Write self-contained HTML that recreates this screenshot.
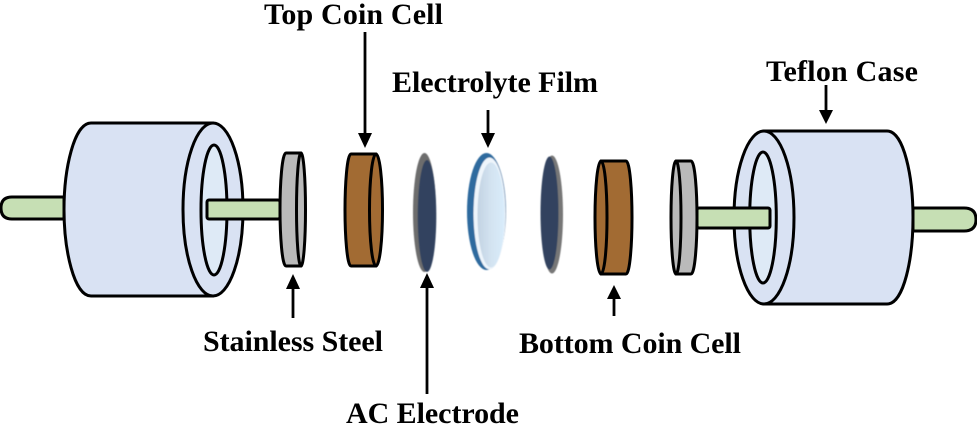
<!DOCTYPE html>
<html><head><meta charset="utf-8"><style>html,body{margin:0;padding:0;background:#fff}svg{display:block}text{font-family:"Liberation Serif",serif;font-weight:bold;font-size:30px;fill:#000}</style></head>
<body>
<svg width="977" height="433" viewBox="0 0 977 433" xmlns="http://www.w3.org/2000/svg">
<defs>
<filter id="b" x="-20%" y="-20%" width="140%" height="140%"><feGaussianBlur stdDeviation="0.6"/></filter>
<linearGradient id="film" x1="0" y1="0" x2="1" y2="0"><stop offset="0" stop-color="#c3d3e2"/><stop offset="0.5" stop-color="#d3e3f1"/><stop offset="1" stop-color="#d9ecfb"/></linearGradient>
</defs>
<g stroke="#000" stroke-width="3" stroke-linejoin="round">
<!-- left rod outer -->
<path d="M64 197H12Q1 197 1 208Q1 219 12 219H64Z" fill="#c6dfb4"/>
<!-- left cylinder -->
<path d="M91 123H213V296H91C74 296 64 250 64 209.500C64 169 74 123 91 123Z" fill="#d9e2f3"/>
<ellipse cx="213" cy="209.500" rx="30" ry="86.500" fill="#d9e2f3"/>
<ellipse cx="214" cy="210" rx="13" ry="65" fill="#deeaf6"/>
<rect x="207" y="200" width="73" height="19" rx="2" fill="#c6dfb4"/>
<!-- left steel disk -->
<path d="M286 153H301V266H286C282 266 280 235 280 209.500C280 184 282 153 286 153Z" fill="#bababa"/>
<ellipse cx="301" cy="209.500" rx="4.500" ry="56.500" fill="#bababa"/>
<!-- top brown -->
<path d="M351 154H376V266H351C347 266 345 235 345 210C345 185 347 154 351 154Z" fill="#a26b33"/>
<ellipse cx="376" cy="210" rx="6.500" ry="56" fill="#a26b33"/>
<!-- bottom brown -->
<path d="M601 161H626C630 161 632 192 632 217.500C632 243 630 274 626 274H601Z" fill="#a26b33"/>
<ellipse cx="601" cy="217.500" rx="6" ry="56.500" fill="#a26b33"/>
<!-- right steel disk -->
<path d="M676 161H691C695 161 697 192 697 217.500C697 243 695 274 691 274H676Z" fill="#bababa"/>
<ellipse cx="676" cy="217.500" rx="5" ry="56.500" fill="#bababa"/>
<!-- right rod outer -->
<path d="M913 208H964Q976 208 976 219.500Q976 231 964 231H913Z" fill="#c6dfb4"/>
<!-- right cylinder -->
<path d="M764 131H887C904 131 913 177 913 217.500C913 258 904 304 887 304H764Z" fill="#d9e2f3"/>
<ellipse cx="764" cy="217.500" rx="30" ry="86.500" fill="#d9e2f3"/>
<ellipse cx="763" cy="217.500" rx="13.300" ry="65.500" fill="#deeaf6"/>
<rect x="697" y="208" width="73" height="20" rx="2" fill="#c6dfb4"/>
</g>
<!-- lenses -->
<g filter="url(#b)">
<ellipse cx="424.500" cy="212.500" rx="11.500" ry="59.500" fill="#6d6d6d"/>
<ellipse cx="427" cy="216" rx="9.300" ry="56" fill="#31435f"/>
<ellipse cx="552" cy="214.500" rx="11" ry="59" fill="#777"/>
<ellipse cx="549.500" cy="213" rx="9" ry="56.500" fill="#31435f"/>
<ellipse cx="486.500" cy="211.500" rx="19.500" ry="58.500" fill="#2f6a9e"/>
<ellipse cx="489.500" cy="213.500" rx="16" ry="56" fill="#eef5fb"/>
<ellipse cx="491" cy="215" rx="13.500" ry="52.500" fill="url(#film)"/>
</g>
<!-- arrows -->
<g stroke="#000" stroke-width="2.800">
<line x1="365" y1="32" x2="365" y2="135"/>
<line x1="488" y1="110" x2="488" y2="135"/>
<line x1="826" y1="85" x2="826" y2="112"/>
<line x1="293" y1="318" x2="293" y2="285"/>
<line x1="427" y1="394" x2="427" y2="285"/>
<line x1="614" y1="316" x2="614" y2="296"/>
</g>
<g fill="#000">
<path d="M358 133H372L365 148Z"/>
<path d="M481 133H495L488 148Z"/>
<path d="M819 110H833L826 124Z"/>
<path d="M286 289H300L293 274Z"/>
<path d="M420 288H434L427 273Z"/>
<path d="M607 299H621L614 285Z"/>
</g>
<!-- labels -->
<text x="264" y="24" textLength="179" lengthAdjust="spacing">Top Coin Cell</text>
<text x="392" y="92" textLength="206" lengthAdjust="spacing">Electrolyte Film</text>
<text x="766" y="81" textLength="152" lengthAdjust="spacing">Teflon Case</text>
<text x="203" y="351" textLength="180" lengthAdjust="spacing">Stainless Steel</text>
<text x="519" y="353" textLength="222" lengthAdjust="spacing">Bottom Coin Cell</text>
<text x="346" y="423" textLength="173" lengthAdjust="spacing">AC Electrode</text>
</svg>
</body></html>
